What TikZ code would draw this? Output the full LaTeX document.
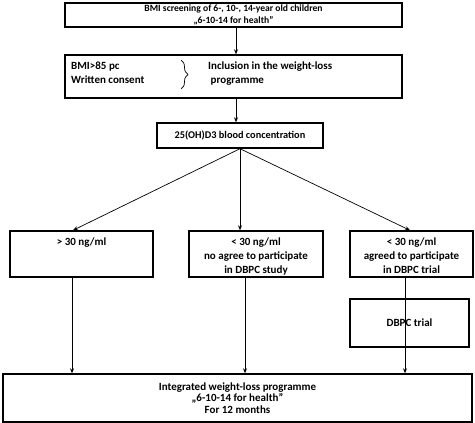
\documentclass[tikz,border=0pt]{standalone}
\usepackage{fontspec}
\setmainfont{Carlito}
\usetikzlibrary{positioning,calc,arrows.meta,decorations.pathreplacing}

\tikzset{
  box/.style={draw,line width=1.4pt,minimum width=#1,inner sep=0pt},
  txt/.style={font=\bfseries\fontsize{11}{14}\selectfont,align=center,inner sep=0pt},
  conn/.style={line width=0.7pt,-{Stealth[length=5pt,width=4pt]}}
}

\begin{document}
\begin{tikzpicture}[x=1pt,y=-1pt]
      \useasboundingbox (0,0) rectangle (475,423);
      % Top boxes
      \node[box=337pt,minimum height=24pt,font=\bfseries\fontsize{9.6}{12}\selectfont,align=center] (screen) at (233.5,15)
        {BMI screening of 6-, 10-, 14-year old children\\„6-10-14 for health”};
      \node[box=337pt,minimum height=43pt] (incl) at (233.5,76.5) {};
      \node[txt,align=left,anchor=north west] (crit) at (71,61.5) {BMI>85 pc\\Written consent};
      \node[txt,align=left,anchor=north west] (prog) at (208,61.5) {Inclusion in the weight-loss\\\ programme};
      \draw[line width=0.7pt,decorate,decoration={brace,amplitude=7pt}] (181,60) -- (181,89);
      \node[box=166pt,minimum height=25pt,font=\bfseries\fontsize{10.3}{12}\selectfont] (conc) at (240,135.5)
        {25(OH)D3 blood concentration};
      % Three groups
      \node[box=143pt,minimum height=46pt] (high) at (81.5,254) {};
      \node[box=134pt,minimum height=46pt] (nodbpc) at (256,254) {};
      \node[box=123pt,minimum height=46pt] (dbpc) at (411.5,254) {};
      \node[txt,anchor=north] (highT) at ([yshift=-7.5pt]high.north) {> 30 ng/ml};
      \node[txt,anchor=north] (nodbpcT) at ([yshift=-7.5pt]nodbpc.north) {< 30 ng/ml\\no agree to participate\\in DBPC study};
      \node[txt,anchor=north] (dbpcT) at ([yshift=-7.5pt]dbpc.north) {< 30 ng/ml\\agreed to participate\\in DBPC trial};
      \node[box=119pt,minimum height=48pt,txt] (trial) at (409.5,323) {DBPC trial};
      % Final programme
      \node[box=469pt,minimum height=48pt,txt,font=\bfseries\fontsize{11}{11.8}\selectfont] (final) at (237.5,398)
        {Integrated weight-loss programme\\„6-10-14 for health”\\For 12 months};
      % Arrows
      \draw[conn] ([xshift=2.5pt]screen.south) -- ([xshift=2.5pt]incl.north);
      \draw[conn] ([xshift=2.5pt]incl.south) -- ([xshift=2.5pt]incl.south |- conc.north);
      \draw[conn] (conc.south) -- ([xshift=-8.5pt]high.north);
      \draw[conn] (conc.south) -- (conc.south |- nodbpc.north);
      \draw[conn] (conc.south) -- ([xshift=-1.5pt]dbpc.north);
      \draw[conn] ([xshift=-9.5pt]high.south) -- ([xshift=-9.5pt]high.south |- final.north);
      \draw[conn] ([xshift=-11pt]nodbpc.south) -- ([xshift=-11pt]nodbpc.south |- final.north);
      \draw[conn] ([xshift=-6.5pt]dbpc.south) -- ([xshift=-6.5pt]dbpc.south |- final.north);
    \end{tikzpicture}
\end{document}
